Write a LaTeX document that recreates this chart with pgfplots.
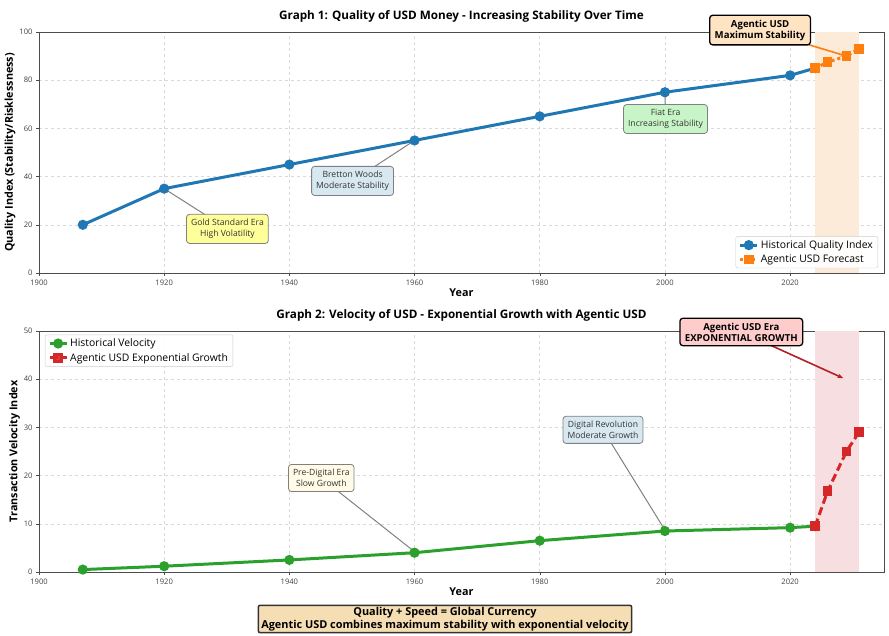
\documentclass[border=0pt]{standalone}
\usepackage{pgfplots}
\pgfplotsset{compat=1.18}
\usepackage{fontspec}
\setmainfont{Open Sans}
\usetikzlibrary{arrows.meta}
\definecolor{mblue}{HTML}{1F77B4}
\definecolor{morange}{HTML}{FF7F0E}
\definecolor{mgreen}{HTML}{2CA02C}
\definecolor{mred}{HTML}{D62728}
\definecolor{darkred}{HTML}{B22222}
\definecolor{wheat}{HTML}{F5DEB3}
\definecolor{bisque}{HTML}{FFE4C4}
\definecolor{pinkbox}{HTML}{FFCCCC}
\definecolor{lyellow}{HTML}{FFFF99}
\definecolor{lblue}{HTML}{D8E8F0}
\definecolor{lgreen}{HTML}{C8F5C8}
\definecolor{cream}{HTML}{FFFBE6}
\definecolor{peach}{HTML}{FDEBDA}
\definecolor{lpink}{HTML}{F6DEE1}

\pgfplotstableread{
year q
1907 20
1920 35
1940 45
1960 55
1980 65
2000 75
2020 82
2024 85
}\histq
\pgfplotstableread{
year q
2024 85
2026 87.5
2029 90
2031 93
}\foreq
\pgfplotstableread{
year v
1907 0.5
1920 1.2
1940 2.5
1960 4
1980 6.5
2000 8.5
2020 9.2
2024 9.5
}\histv
\pgfplotstableread{
year v
2024 9.5
2026 16.8
2029 25
2031 29
}\agv

\tikzset{
  annot/.style={draw=black!50, rounded corners=3pt, line width=0.8pt, align=center, font=\fontsize{8.6}{10.5}\selectfont, inner xsep=4.5pt, inner ysep=5pt, text=black!80},
  bigannot/.style={draw=black, rounded corners=3pt, line width=1.3pt, align=center, font=\bfseries\fontsize{9.6}{11}\selectfont, inner xsep=5pt, inner ysep=4.5pt},
}
\pgfplotsset{
  common/.style={
    width=845pt, height=241pt, scale only axis, anchor=south west,
    xmin=1900, xmax=2035,
    xtick={1900,1920,...,2020},
    /pgf/number format/1000 sep={},
    /pgf/number format/assume math mode=true,
    tick label style={font=\fontsize{7.6}{8}\selectfont, text=black!75},
    tick align=outside, major tick length=3pt,
    tick style={black!70},
    xtick pos=bottom, ytick pos=left,
    axis line style={black!70, line width=0.8pt},
    grid=major,
    major grid style={dashed, black!15, line width=0.5pt},
    xlabel={Year},
    xlabel style={font=\bfseries\fontsize{10.8}{12}\selectfont, yshift=3pt},
    ylabel style={font=\bfseries\fontsize{10.8}{12}\selectfont, yshift=-3pt},
    title style={font=\bfseries\fontsize{11.7}{13}\selectfont, yshift=0pt},
    clip=false,
    legend cell align=left,
    legend style={font=\fontsize{10.4}{12}\selectfont, draw=black!20, rounded corners=2pt, fill=white, fill opacity=0.9, text opacity=1, row sep=1pt},
  },
}

\begin{document}
\begin{tikzpicture}
\path[use as bounding box] (0pt,0pt) rectangle (889pt,636pt);

% ---------- Graph 1 ----------
\begin{axis}[common, at={(39pt,363pt)},
  ymin=0, ymax=100, ytick={0,20,...,100},
  ylabel={Quality Index (Stability/Risklessness)},
  title={Graph 1: Quality of USD Money - Increasing Stability Over Time},
  legend style={at={(0.993,0.02)}, anchor=south east},
]
\addplot[fill=peach, draw=none, forget plot] coordinates {(2024,0) (2031,0) (2031,100) (2024,100)} -- cycle;
\addplot[mblue, line width=3pt, mark=*, mark size=3.5pt, mark options={solid}] table[x=year,y=q]{\histq};
\addlegendentry{Historical Quality Index}
\addplot[morange, line width=3pt, dashed, mark=square*, mark size=3.3pt, mark options={solid}] table[x=year,y=q]{\foreq};
\addlegendentry{Agentic USD Forecast}

\draw[black!50, line width=1pt, -{Stealth[length=5pt]}] (axis cs:1930.1,18.3) -- (axis cs:1920,35);
\node[annot, fill=lyellow] at (axis cs:1930.1,18.3) {Gold Standard Era\\High Volatility};
\draw[black!50, line width=1pt, -{Stealth[length=5pt]}] (axis cs:1950.1,38.2) -- (axis cs:1960,55);
\node[annot, fill=lblue] at (axis cs:1950.1,38.2) {Bretton Woods\\Moderate Stability};
\draw[black!50, line width=1pt, -{Stealth[length=5pt]}] (axis cs:2000.1,63.9) -- (axis cs:2000,75);
\node[annot, fill=lgreen] at (axis cs:2000.1,63.9) {Fiat Era\\Increasing Stability};
\draw[morange, line width=1.6pt, -{Stealth[length=6pt]}] (axis cs:2015.2,100.8) -- (axis cs:2029,90);
\node[bigannot, fill=bisque] at (axis cs:2015.2,100.8) {Agentic USD\\Maximum Stability};
\end{axis}

% ---------- Graph 2 ----------
\begin{axis}[common, at={(39pt,64pt)},
  ymin=0, ymax=50, ytick={0,10,...,50},
  ylabel={Transaction Velocity Index},
  title={Graph 2: Velocity of USD - Exponential Growth with Agentic USD},
  legend style={at={(0.007,0.985)}, anchor=north west},
]
\addplot[fill=lpink, draw=none, forget plot] coordinates {(2024,0) (2031,0) (2031,50) (2024,50)} -- cycle;
\addplot[mgreen, line width=3pt, mark=*, mark size=3.5pt, mark options={solid}] table[x=year,y=v]{\histv};
\addlegendentry{Historical Velocity}
\addplot[mred, line width=3pt, dash pattern=on 8pt off 4pt, mark=square*, mark size=3.3pt, mark options={solid}] table[x=year,y=v]{\agv};
\addlegendentry{Agentic USD Exponential Growth}

\draw[black!50, line width=1pt, -{Stealth[length=5pt]}] (axis cs:1945.1,19.5) -- (axis cs:1960,4.2);
\node[annot, fill=cream] at (axis cs:1945.1,19.5) {Pre-Digital Era\\Slow Growth};
\draw[black!50, line width=1pt, -{Stealth[length=5pt]}] (axis cs:1990.1,29.5) -- (axis cs:2000,8.7);
\node[annot, fill=lblue] at (axis cs:1990.1,29.5) {Digital Revolution\\Moderate Growth};
\draw[darkred, line width=1.6pt, -{Stealth[length=6pt]}] (axis cs:2012.2,49.8) -- (axis cs:2028.5,40.2);
\node[bigannot, fill=pinkbox] at (axis cs:2012.2,49.8) {Agentic USD Era\\EXPONENTIAL GROWTH};
\end{axis}

\node[draw=black!80, line width=1.5pt, fill=wheat, rounded corners=2pt, align=center,
      font=\bfseries\fontsize{10.9}{12.5}\selectfont, inner xsep=3pt, inner ysep=2pt]
  at (445pt,17pt) {Quality + Speed = Global Currency\\Agentic USD combines maximum stability with exponential velocity};
\end{tikzpicture}
\end{document}
